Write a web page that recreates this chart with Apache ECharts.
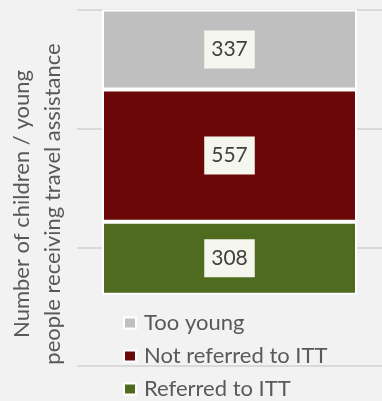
<!DOCTYPE html>
<html>
<head>
<meta charset="utf-8">
<script src="https://cdn.jsdelivr.net/npm/echarts@6/dist/echarts.min.js"></script>
<style>
  html, body { margin: 0; padding: 0; background: #f2f2f2; }
  #chart { width: 382px; height: 401px; }
</style>
</head>
<body>
<div id="chart"></div>
<script>
// one stacked bar, bottom to top
const categories = ['Total'];
const referred = [308];
const notReferred = [557];
const tooYoung = [337];
const legendOrder = ['Too young', 'Not referred to ITT', 'Referred to ITT'];

window.onload = init;

function init() {
    let chart = echarts.init(document.getElementById('chart'));

    let label = {
        show: true,
        position: 'inside',
        color: '#404040',
        fontFamily: 'Lato',
        fontSize: 21,
        lineHeight: 24,
        backgroundColor: '#f5f7ef',
        padding: [7, 7]
    };

    function serie(name, data, color) {
        return {
            name: name,
            type: 'bar',
            stack: 'total',
            data: data,
            barWidth: 255,
            itemStyle: { color: color, borderColor: '#ffffff', borderWidth: 2 },
            label: label
        };
    }

    let options = {
        backgroundColor: '#f2f2f2',
        animation: false,
        grid: { left: 77, right: 0, top: 10, bottom: 35 },
        xAxis: {
            type: 'category',
            data: categories,
            show: false
        },
        yAxis: {
            type: 'value',
            min: -300,
            max: 1200,
            interval: 500,
            axisLabel: { show: false },
            axisLine: { show: false },
            axisTick: { show: false },
            splitLine: { lineStyle: { color: '#d9d9d9', width: 2 } }
        },
        legend: {
            data: legendOrder,
            orient: 'vertical',
            left: 123,
            top: 312,
            padding: 0,
            itemWidth: 12,
            itemHeight: 11,
            itemGap: 11,
            icon: 'rect',
            textStyle: { color: '#595959', fontFamily: 'Lato', fontSize: 22, lineHeight: 22, padding: [0, 0, 0, 3] }
        },
        graphic: [{
            type: 'text',
            x: 37,
            y: 204,
            rotation: Math.PI / 2,
            style: {
                text: 'Number of children / young\npeople receiving travel assistance',
                fill: '#595959',
                font: '22px Lato',
                lineHeight: 31,
                align: 'center',
                verticalAlign: 'middle'
            }
        }],
        series: [
            serie('Referred to ITT', referred, '#4f6b20'),
            serie('Not referred to ITT', notReferred, '#6b0707'),
            serie('Too young', tooYoung, '#bfbfbf')
        ]
    };

    chart.setOption(options);
}
</script>
</body>
</html>
